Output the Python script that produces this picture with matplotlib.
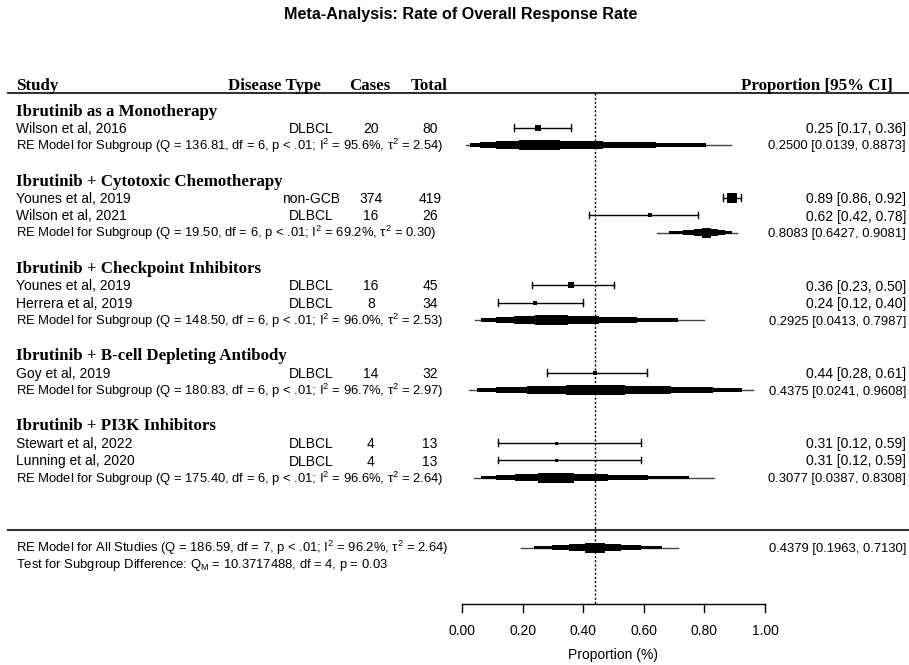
import matplotlib
matplotlib.use("Agg")
import matplotlib.pyplot as plt
import numpy as np
from statistics import NormalDist
from matplotlib.patches import Polygon

plt.rcParams['font.family'] = ['Liberation Sans', 'DejaVu Sans']
plt.rcParams['mathtext.fontset'] = 'custom'
plt.rcParams['mathtext.rm'] = 'Liberation Sans'
plt.rcParams['mathtext.it'] = 'Liberation Sans'
plt.rcParams['mathtext.bf'] = 'Liberation Sans:bold'

# ---------------- data ----------------
group_names = ["Ibrutinib as a Monotherapy", "Ibrutinib + Cytotoxic Chemotherapy",
               "Ibrutinib + Checkpoint Inhibitors", "Ibrutinib + B-cell Depleting Antibody",
               "Ibrutinib + PI3K Inhibitors"]
study_group = [0, 1, 1, 2, 2, 3, 4, 4]
studies = ["Wilson et al, 2016", "Younes et al, 2019", "Wilson et al, 2021",
           "Younes et al, 2019", "Herrera et al, 2019", "Goy et al, 2019",
           "Stewart et al, 2022", "Lunning et al, 2020"]
disease = ["DLBCL", "non-GCB", "DLBCL", "DLBCL", "DLBCL", "DLBCL", "DLBCL", "DLBCL"]
cases = [20, 374, 16, 16, 8, 14, 4, 4]
totals = [80, 419, 26, 45, 34, 32, 13, 13]
est = [0.25, 0.89, 0.62, 0.36, 0.24, 0.44, 0.31, 0.31]
ci_lo = [0.17, 0.86, 0.42, 0.23, 0.12, 0.28, 0.12, 0.12]
ci_hi = [0.36, 0.92, 0.78, 0.50, 0.40, 0.61, 0.59, 0.59]

sub_est = [0.2500, 0.8083, 0.2925, 0.4375, 0.3077]
sub_lo = [0.0139, 0.6427, 0.0413, 0.0241, 0.0387]
sub_hi = [0.8873, 0.9081, 0.7987, 0.9608, 0.8308]
sub_Q = ["136.81", "19.50", "148.50", "180.83", "175.40"]
sub_df = [6, 6, 6, 6, 6]
sub_I2 = ["95.6", "69.2", "96.0", "96.7", "96.6"]
sub_tau2 = ["2.54", "0.30", "2.53", "2.97", "2.64"]

all_est, all_lo, all_hi = 0.4379, 0.1963, 0.7130
all_Q, all_df, all_I2, all_tau2 = "186.59", 7, "96.2", "2.64"
QM, QM_df, QM_p = "10.3717488", 4, "0.03"

xticks = [0.0, 0.2, 0.4, 0.6, 0.8, 1.0]
ref_line = all_est

# ---------------- layout ----------------
W, H = 909, 665
PX0, PXS = 462.0, 303.0      # pixel of p=0 and pixels per unit
RY0, RYS = 110.0, 17.5       # pixel of row 0 and pixels per row


def px2x(px):
    return (px - PX0) / PXS


def py2k(py):
    return (py - RY0) / RYS


fig = plt.figure(figsize=(W / 100, H / 100), dpi=100)
ax = fig.add_axes([0, 0, 1, 1])
ax.set_xlim(px2x(0), px2x(W))
ax.set_ylim(py2k(H), py2k(0))
ax.axis('off')

BODY = 10
SUMF = 9.4
HEAD = 12.2
DY = 1.5 / RYS
serif_b = dict(family=['Liberation Serif', 'DejaVu Serif'], fontweight='bold', fontsize=HEAD)

x_left = px2x(16)
x_dis = px2x(311)
x_cas = px2x(371)
x_tot = px2x(430)
x_right = px2x(906)

fig.text(461 / W, 1 - 14 / H, "Meta-Analysis: Rate of Overall Response Rate",
         ha='center', va='center', fontsize=11.6, fontweight='bold')

hk = py2k(84) + DY
ax.text(x_left, hk, "Study", ha='left', va='center', **serif_b)
ax.text(px2x(275), hk, "Disease Type", ha='center', va='center', **serif_b)
ax.text(px2x(370), hk, "Cases", ha='center', va='center', **serif_b)
ax.text(px2x(429), hk, "Total", ha='center', va='center', **serif_b)
ax.text(px2x(893), hk, "Proportion [95% CI]", ha='right', va='center', **serif_b)
ax.plot([px2x(8), px2x(909)], [py2k(93)] * 2, color='#333333', lw=1.5)

# weights for square sizes
wts = np.sqrt(np.array(totals) * np.array(est) * (1 - np.array(est)))
wn = (wts - wts.min()) / (wts.max() - wts.min())
sq_px = 3.0 + 7.0 * wn

nd = NormalDist()
levels = [0.95, 0.88, 0.7, 0.45, 0.18]
heights_px = [1.0, 3.5, 5.5, 7.5, 10.0]


def logit(p):
    return np.log(p / (1 - p))


def expit(z):
    return 1 / (1 + np.exp(-z))


def summary_shape(k, e, lo, hi):
    c = logit(e)
    se = (logit(hi) - logit(lo)) / (2 * 1.96)
    for i, (lev, hp) in enumerate(zip(levels, heights_px)):
        if i == 0:
            ax.plot([lo, hi], [k, k], color='#444444', lw=1.0, zorder=3)
            continue
        z = nd.inv_cdf(0.5 + lev / 2)
        a, b = expit(c - z * se), expit(c + z * se)
        h = hp / 2 / RYS
        ax.add_patch(Polygon([[a, k - h], [b, k - h], [b, k + h], [a, k + h]],
                             closed=True, facecolor='black', edgecolor='none', zorder=4))


def cap_bar(k, lo, hi):
    ax.plot([lo, hi], [k, k], color='black', lw=1.0, zorder=3)
    ch = 3.2 / RYS
    for x in (lo, hi):
        ax.plot([x, x], [k - ch, k + ch], color='black', lw=1.0, zorder=3)


k = 0
for g, gname in enumerate(group_names):
    ax.text(x_left, k + DY, gname, ha='left', va='center', **serif_b)
    idx = [i for i, s in enumerate(study_group) if s == g]
    for j, i in enumerate(idx):
        r = k + 1 + j
        ax.text(x_left, r + DY, studies[i], ha='left', va='center', fontsize=BODY)
        ax.text(x_dis, r + DY, disease[i], ha='center', va='center', fontsize=BODY)
        ax.text(x_cas, r + DY, str(cases[i]), ha='center', va='center', fontsize=BODY)
        ax.text(x_tot, r + DY, str(totals[i]), ha='center', va='center', fontsize=BODY)
        ax.text(x_right, r + DY, f"{est[i]:.2f} [{ci_lo[i]:.2f}, {ci_hi[i]:.2f}]",
                ha='right', va='center', fontsize=BODY)
        cap_bar(r, ci_lo[i], ci_hi[i])
        ax.plot([est[i]], [r], marker='s', color='black', ms=sq_px[i] * 0.72,
                mew=0, zorder=5, ls='none')
    r = k + 1 + len(idx)
    ax.text(x_left, r + DY * 0.6,
            f"RE Model for Subgroup (Q = {sub_Q[g]}, df = {sub_df[g]}, p < .01; "
            f"I$^2$ = {sub_I2[g]}%, τ$^2$ = {sub_tau2[g]})",
            ha='left', va='center', fontsize=SUMF)
    ax.text(x_right, r + DY, f"{sub_est[g]:.4f} [{sub_lo[g]:.4f}, {sub_hi[g]:.4f}]",
            ha='right', va='center', fontsize=SUMF)
    summary_shape(r, sub_est[g], sub_lo[g], sub_hi[g])
    last = r
    k = r + 2

sep = last + 3
ax.plot([px2x(8), px2x(909)], [sep, sep], color='#333333', lw=1.5)
ko = sep + 1
ax.text(x_left, ko + DY * 0.3,
        f"RE Model for All Studies (Q = {all_Q}, df = {all_df}, p < .01; "
        f"I$^2$ = {all_I2}%, τ$^2$ = {all_tau2})",
        ha='left', va='center', fontsize=SUMF)
ax.text(x_right, ko + DY, f"{all_est:.4f} [{all_lo:.4f}, {all_hi:.4f}]",
        ha='right', va='center', fontsize=SUMF)
summary_shape(ko, all_est, all_lo, all_hi)
ax.text(x_left, py2k(565),
        f"Test for Subgroup Difference: Q$_\\mathrm{{M}}$ = {QM}, df = {QM_df}, p = {QM_p}",
        ha='left', va='center', fontsize=SUMF)

# reference line
axis_k = py2k(604)
ax.plot([ref_line, ref_line], [py2k(93), axis_k], color='black', lw=1.0,
        ls=(0, (1.5, 1.5)), zorder=6)

# x axis
ax.plot([xticks[0], xticks[-1]], [axis_k, axis_k], color='black', lw=1.0)
tick_len = 8 / RYS
for t in xticks:
    ax.plot([t, t], [axis_k, axis_k + tick_len], color='black', lw=1.0)
    ax.text(t, py2k(631), f"{t:.2f}", ha='center', va='center', fontsize=BODY)
ax.text((xticks[0] + xticks[-1]) / 2, py2k(655), "Proportion (%)", ha='center',
        va='center', fontsize=BODY)

fig.savefig("out.png", dpi=100)
